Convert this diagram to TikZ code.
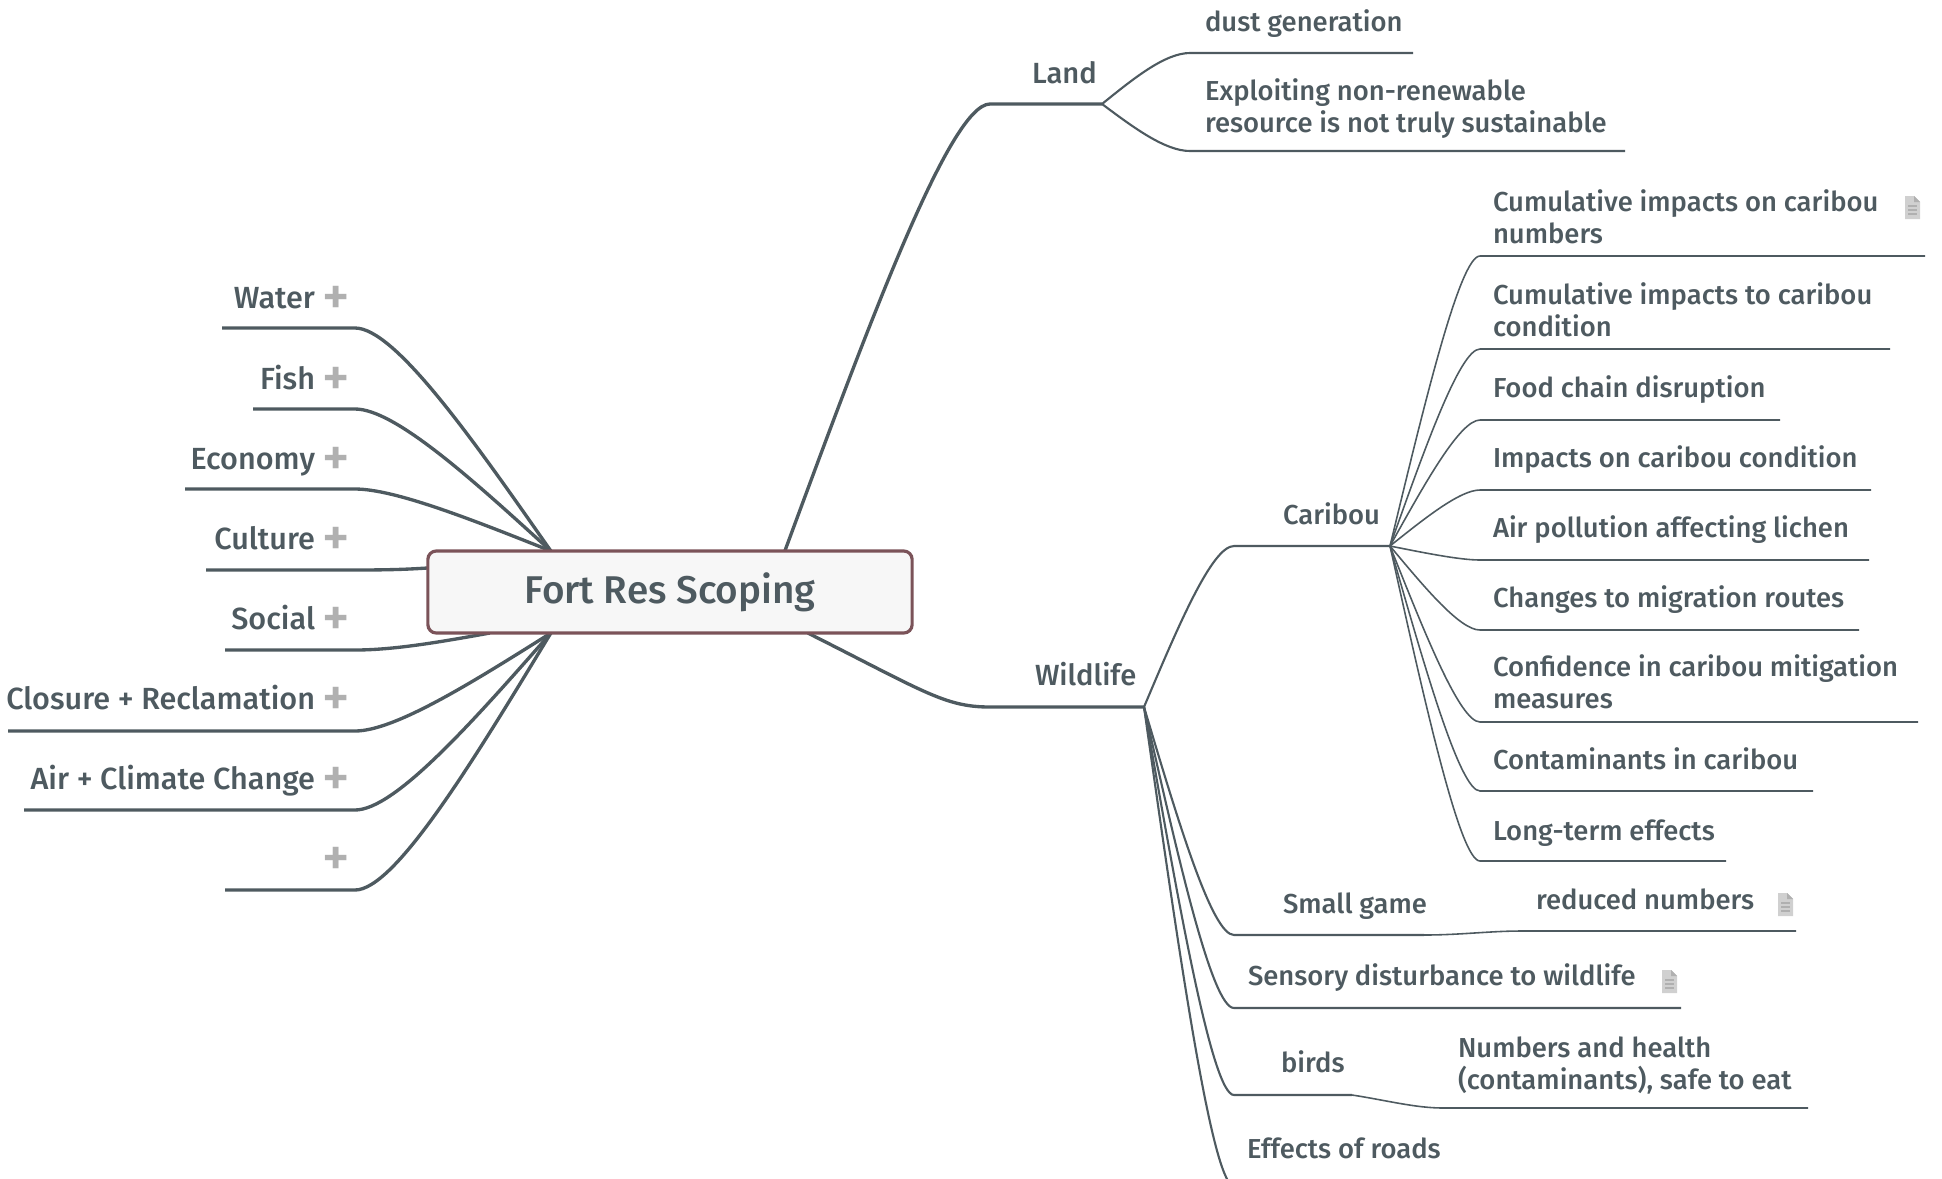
\documentclass[tikz,border=0pt]{standalone}
\usepackage{fontspec}
\setmainfont[UprightFont=* Medium]{Fira Sans}
\usetikzlibrary{calc,backgrounds}
\definecolor{inkcolor}{HTML}{4E5A60}
\definecolor{pluscolor}{HTML}{B0B0B0}
\definecolor{rimcolor}{HTML}{7B5359}
\tikzset{
  every node/.style={text=inkcolor,inner sep=0pt,outer sep=0pt},
  bough/.style={draw=inkcolor,line width=0.95pt},
  limb/.style={draw=inkcolor,line width=0.6pt},
  twig/.style={draw=inkcolor,line width=0.45pt},
  maintopic/.style={font=\fontsize{8.7}{11}\selectfont,anchor=base east},
  bigtopic/.style={font=\fontsize{8.3}{10}\selectfont,anchor=base west},
  subtopic/.style={font=\fontsize{7.8}{8.85}\selectfont,anchor=base west,align=left},
  plussign/.style={font=\fontsize{15}{15}\selectfont,text=pluscolor},
  noteicon/.pic={
    \fill[pluscolor!60] (-7,-11) -- (2,-11) -- (8,-5) -- (8,12) -- (-7,12) -- cycle;
    \fill[pluscolor] (2,-11) -- (8,-5) -- (2,-5) -- cycle;
    \foreach \k in {-1,3,7} \draw[pluscolor,line width=0.4pt] (-4,\k) -- (5,\k);
  }
}
\begin{document}
\begin{tikzpicture}[x=0.01cm,y=-0.01cm]
\useasboundingbox (0,0) rectangle (1942,1178);
\clip (0,0) rectangle (1942,1178);
% Draw the central box
\node[draw=rimcolor,fill=black!3,line width=0.9pt,rounded corners=2.4pt,minimum width=4.84cm,minimum height=0.82cm,
  font=\fontsize{11}{14}\selectfont] (central) at (670,592) {Fort Res Scoping};
\coordinate (topfan) at ($(central.north west)+(123,0)$);
\coordinate (lowfan) at ($(central.south west)+(123,0)$);
\coordinate (sidefan) at ($(central.north west)+(0,17)$);
\coordinate (socfan) at ($(central.south west)+(62,0)$);
\begin{scope}[on background layer]
% Draw the left side
\foreach \name/\yy/\xend/\ty/\txt/\from in {
  water/328/222/308/Water/topfan,
  fish/409/253/389/Fish/topfan,
  economy/489/185/469/Economy/topfan,
  culture/570/206/549/Culture/sidefan,
  social/650/225/629/Social/socfan,
  closure/731/8/709/Closure + Reclamation/lowfan,
  air/810/24/789/Air + Climate Change/lowfan,
  blank/890/225/869//lowfan}
{
\coordinate (\name elbow) at (355,\yy);
\coordinate (\name end) at (\xend,\yy);
\coordinate (\name corner) at (395,\yy);
\node[maintopic] (\name) at (315,\ty) {\txt};
\node[plussign] (\name plus) at (336,\ty-8) {+};
\draw[bough] (\from) .. controls ($(\from)!.5!(\name corner)$) and (\name corner) .. (\name elbow) -- (\name end);
}
% Draw the two right boughs
\node[bigtopic] (land) at (1032,83) {Land};
\node[bigtopic] (wildlife) at (1035,685) {Wildlife};
\coordinate (landroot) at ($(central.north west)+(357,0)$);
\coordinate (wildroot) at ($(central.south west)+(380,0)$);
\coordinate (landcorner) at (950,104);
\coordinate (landelbow) at (990,104);
\coordinate (landhub) at (1102,104);
\coordinate (wildelbow) at (990,707);
\coordinate (wildhub) at (1144,707);
\coordinate (caribouhub) at (1390,546);
\coordinate (smallgamehub) at (1424,935);
\coordinate (birdshub) at (1352,1095);
\draw[bough] (landroot) .. controls ($(landroot)!.5!(landcorner)$) and (landcorner) .. (landelbow) -- (landhub);
\draw[bough] (wildroot) .. controls (925,692) and (945,707) .. (wildelbow) -- (wildhub);
% Draw the land twigs
\foreach \name/\yy/\xend/\ty/\txt in {
  dust/53/1413/31/dust generation,
  exploit/151/1625/132/{Exploiting non-renewable\\resource is not truly sustainable}}
{
\coordinate (\name elbow) at (1190,\yy);
\coordinate (\name corner) at (1165,\yy);
\coordinate (\name end) at (\xend,\yy);
\node[subtopic] (\name) at (1205,\ty) {\txt};
\draw[limb] (landhub) .. controls ($(landhub)!.5!(\name corner)$) and (\name corner) .. (\name elbow) -- (\name end);
}
% Draw the wildlife twigs
\foreach \name/\yy/\xend/\tx/\ty/\txt in {
  caribou/546/1390/1283/524/Caribou,
  smallgame/935/1424/1283/913/Small game,
  sensory/1008/1681/1248/985/Sensory disturbance to wildlife,
  birds/1095/1352/1281/1072/birds,
  roads/1186/1500/1247/1158/Effects of roads}
{
\coordinate (\name elbow) at (1234,\yy);
\coordinate (\name corner) at (1212,\yy);
\coordinate (\name end) at (\xend,\yy);
\node[subtopic] (\name) at (\tx,\ty) {\txt};
\draw[limb] (wildhub) .. controls ($(wildhub)!.5!(\name corner)$) and (\name corner) .. (\name elbow) -- (\name end);
}
% Draw the caribou twigs
\foreach \name/\yy/\xend/\ty/\txt in {
  cumnumbers/256/1925/243/{Cumulative impacts on caribou\\numbers},
  cumcondition/349/1890/336/{Cumulative impacts to caribou\\condition},
  foodchain/420/1780/397/Food chain disruption,
  impacts/490/1871/467/Impacts on caribou condition,
  lichen/560/1869/537/Air pollution affecting lichen,
  migration/630/1859/607/Changes to migration routes,
  confidence/722/1918/708/{Confidence in caribou mitigation\\measures},
  contaminants/791/1813/769/Contaminants in caribou,
  longterm/861/1726/840/Long-term effects}
{
\coordinate (\name elbow) at (1480,\yy);
\coordinate (\name corner) at (1460,\yy);
\coordinate (\name end) at (\xend,\yy);
\node[subtopic] (\name) at (1493,\ty) {\txt};
\draw[twig] (caribouhub) .. controls ($(caribouhub)!.5!(\name corner)$) and (\name corner) .. (\name elbow) -- (\name end);
}
% Draw the two end twigs
\node[subtopic] (reduced) at (1536,909) {reduced numbers};
\node[subtopic] (health) at (1458,1089) {Numbers and health\\(contaminants), safe to eat};
\coordinate (reducedelbow) at (1521,931);
\coordinate (reducedend) at (1796,931);
\coordinate (healthelbow) at (1443,1108);
\coordinate (healthend) at (1808,1108);
\draw[twig] (smallgamehub) .. controls (1460,935) and (1490,931) .. (reducedelbow) -- (reducedend);
\draw[twig] (birdshub) .. controls (1385,1100) and (1415,1108) .. (healthelbow) -- (healthend);
\end{scope}
% Draw the note icons
\foreach \xx/\yy in {1912/207,1785/904,1669/981}
\pic at (\xx,\yy) {noteicon};
\end{tikzpicture}
\end{document}
